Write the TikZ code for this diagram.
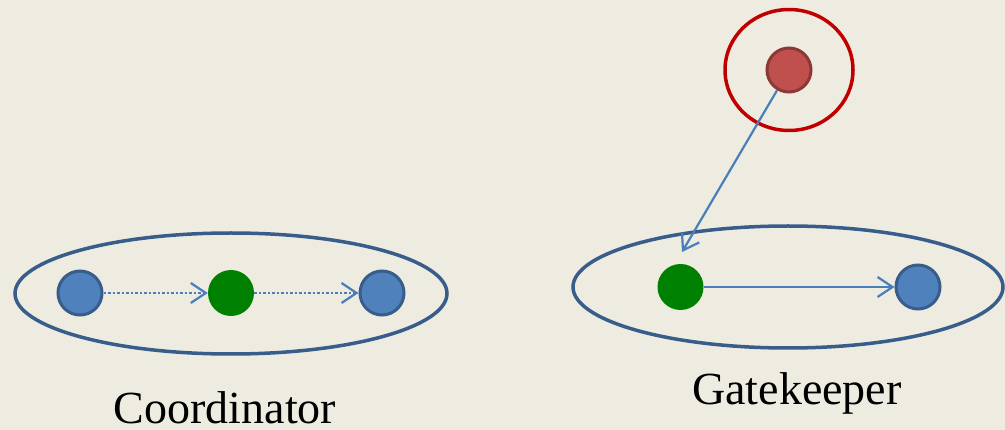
\documentclass[tikz,border=0pt]{standalone}
\usepackage{fontspec}
\setmainfont{Liberation Serif}
\usetikzlibrary{arrows.meta,shapes.geometric}
\definecolor{bg}{HTML}{EEECE1}
\definecolor{ringblue}{HTML}{385D8A}
\definecolor{nodeblue}{HTML}{4F81BD}
\definecolor{arrowblue}{HTML}{4A7EBB}
\definecolor{nodegreen}{HTML}{008000}
\definecolor{ringred}{HTML}{C00000}
\definecolor{nodered}{HTML}{C0504D}
\definecolor{nodeltred}{HTML}{8C3836}
\tikzset{
  group/.style={ellipse, draw=ringblue, line width=3.5pt, minimum width=432pt, minimum height=121pt, inner sep=0pt},
  bluedot/.style={circle, draw=ringblue, fill=nodeblue, line width=3pt, minimum size=44pt, inner sep=0pt},
  greendot/.style={circle, fill=nodegreen, minimum size=46pt, inner sep=0pt},
  reddot/.style={circle, draw=nodeltred, fill=nodered, line width=3pt, minimum size=44pt, inner sep=0pt},
  redring/.style={ellipse, draw=ringred, line width=3.5pt, minimum width=128pt, minimum height=121pt, inner sep=0pt},
  conn/.style={draw=arrowblue, line width=2.2pt, -{Straight Barb[length=15pt,width=20pt,line width=2.2pt]}},
  dotconn/.style={conn, line width=2.8pt, dash pattern=on 2.5pt off 2pt},
  lbl/.style={anchor=base, font=\fontsize{46pt}{50pt}\selectfont, inner sep=0pt}
}
\begin{document}
\begin{tikzpicture}[x=1pt,y=-1pt]
\fill[bg] (0,0) rectangle (1005,430);
\useasboundingbox (0,0) rectangle (1005,430);
% left group
\node[group] (gl) at (231,293.5) {};
\node[bluedot] (a1) at (80,293) {};
\node[greendot] (c1) at (231,293) {};
\node[bluedot] (b1) at (382,293) {};
\draw[dotconn] (a1) -- (c1);
\draw[dotconn] (c1) -- (b1);
\node[lbl] (t1) at (225,424) {Coordinator};
% right group
\node[group, minimum width=430pt, minimum height=122pt] (gr) at (788,287) {};
\node[greendot] (c2) at (680.5,287) {};
\node[bluedot] (b2) at (918,287) {};
\draw[conn] (c2) -- (b2);
\node[redring] (rr) at (789,70) {};
\node[reddot] (r) at (789,70) {};
\coordinate (tip) at (682,252);
\draw[conn] (r) -- (tip);
\node[lbl] (t2) at (797,405) {Gatekeeper};
\end{tikzpicture}
\end{document}
